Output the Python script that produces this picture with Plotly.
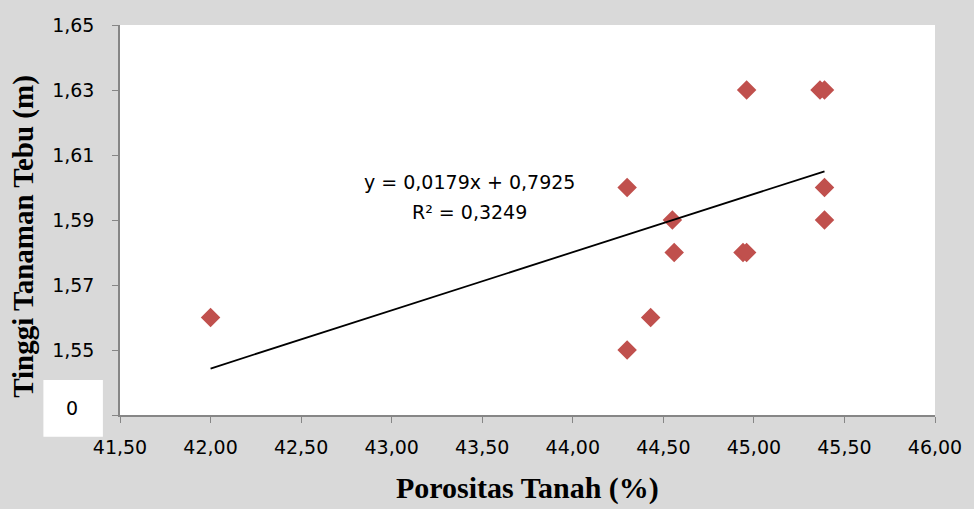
import plotly.graph_objects as go

# Data
porositas = [42.00, 44.30, 44.30, 44.43, 44.55, 44.56, 44.96, 44.94, 44.96, 45.365, 45.39, 45.39, 45.39]
tinggi    = [1.56,  1.60,  1.55,  1.56,  1.59,  1.58,  1.63,  1.58,  1.58,  1.63,   1.63,  1.60,  1.59]

slope = 0.0179
intercept = 0.7925
eq_line1 = "y = 0,0179x + 0,7925"
eq_line2 = "R² = 0,3249"

x_tickvals = [41.5, 42.0, 42.5, 43.0, 43.5, 44.0, 44.5, 45.0, 45.5, 46.0]
x_ticktext = ["41,50", "42,00", "42,50", "43,00", "43,50", "44,00", "44,50", "45,00", "45,50", "46,00"]
y_tickvals = [1.53, 1.55, 1.57, 1.59, 1.61, 1.63, 1.65]
y_ticktext = ["", "1,55", "1,57", "1,59", "1,61", "1,63", "1,65"]

xt = [min(porositas), max(porositas)]
yt = [slope * v + intercept for v in xt]

fig = go.Figure()
fig.add_trace(go.Scatter(x=porositas, y=tinggi, mode="markers",
                         marker=dict(symbol="diamond", size=15, color="#C0504D",
                                     line=dict(width=0)),
                         showlegend=False, hoverinfo="x+y"))
fig.add_trace(go.Scatter(x=xt, y=yt, mode="lines",
                         line=dict(color="black", width=1.8),
                         showlegend=False, hoverinfo="skip"))

tick_font = dict(family="DejaVu Sans", size=19, color="black")
ytitle_font = dict(family="Liberation Serif", size=29, color="black")
xtitle_font = dict(family="Liberation Serif", size=30, color="black")

fig.update_layout(
    width=974, height=509,
    margin=dict(l=120, r=34, t=25, b=94),
    paper_bgcolor="#d9d9d9",
    plot_bgcolor="white",
    xaxis=dict(range=[41.5, 46.0], tickvals=x_tickvals, ticktext=x_ticktext,
               showgrid=False, zeroline=False, showline=True, linecolor="#868686",
               linewidth=1.5, ticks="outside", ticklen=6, tickcolor="#868686",
               tickfont=tick_font, ticklabelstandoff=8),
    yaxis=dict(range=[1.53, 1.65], tickvals=y_tickvals, ticktext=y_ticktext,
               showgrid=False, zeroline=False, showline=True, linecolor="#868686",
               linewidth=1.5, ticks="outside", ticklen=6, tickcolor="#868686",
               tickfont=tick_font, ticklabelstandoff=14),
    shapes=[dict(type="rect", xref="paper", yref="paper",
                 x0=-0.094, x1=-0.021, y0=-0.056, y1=0.09,
                 fillcolor="white", line=dict(width=0), layer="below")],
    annotations=[
        dict(text="0", xref="paper", yref="paper", x=-0.059, y=0.018,
             showarrow=False, font=tick_font, xanchor="center", yanchor="middle"),
        dict(text="<b>Porositas Tanah (%)</b>", xref="paper", yref="paper",
             x=0.5, y=-0.188, showarrow=False, font=xtitle_font,
             xanchor="center", yanchor="middle"),
        dict(text="<b>Tinggi Tanaman Tebu (m)</b>", xref="paper", yref="paper",
             x=-0.118, y=0.459, showarrow=False, font=ytitle_font, textangle=-90,
             xanchor="center", yanchor="middle"),
        dict(text=eq_line1, x=43.43, y=1.6017, xref="x", yref="y", showarrow=False,
             font=dict(family="DejaVu Sans", size=19, color="black"),
             xanchor="center", yanchor="middle"),
        dict(text=eq_line2, x=43.43, y=1.5925, xref="x", yref="y", showarrow=False,
             font=dict(family="DejaVu Sans", size=19, color="black"),
             xanchor="center", yanchor="middle"),
    ],
)

fig.write_html("out.html", config={"displayModeBar": False},
               post_script="document.body.style.margin='0';document.body.style.overflow='hidden';")
